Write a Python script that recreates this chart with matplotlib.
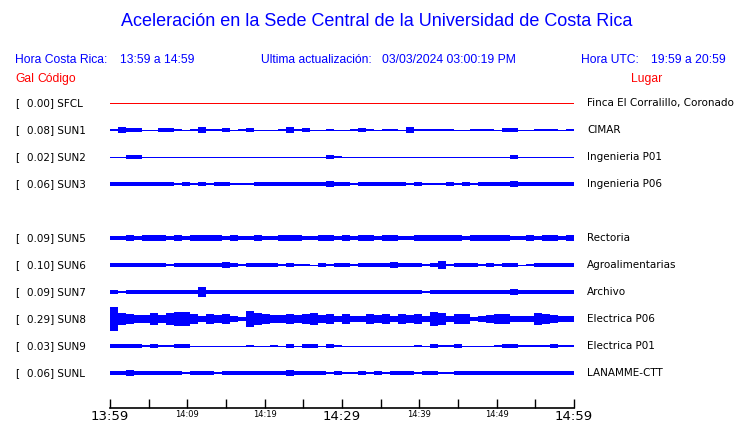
import numpy as np
import matplotlib
matplotlib.use("Agg")
import matplotlib.pyplot as plt
from matplotlib.transforms import blended_transform_factory

# ----------------------
# data read off the screen shot
# ----------------------
codes  = ["SFCL", "SUN1", "SUN2", "SUN3", "SUN5", "SUN6", "SUN7", "SUN8", "SUN9", "SUNL"]
gal    = [0.00, 0.08, 0.02, 0.06, 0.09, 0.10, 0.09, 0.29, 0.03, 0.06]
places = ["Finca El Corralillo, Coronado", "CIMAR", "Ingenieria P01", "Ingenieria P06",
          "Rectoria", "Agroalimentarias", "Archivo", "Electrica P06", "Electrica P01",
          "LANAMME-CTT"]
rows   = [0, 1, 2, 3, 5, 6, 7, 8, 9, 10]     # SUN4 slot is empty

# trace envelope (peak to peak, pixels), one value per ~1 min bin, 58 bins
sfcl = [1] * 58
sun1 = [2, 6, 3, 3, 1, 1, 3, 3, 2, 1, 2, 5, 2, 2, 3, 1, 2, 3, 1, 1,
        1, 2, 5, 2, 3, 1, 1, 2, 1, 1, 2, 3, 2, 1, 2, 2, 1, 5, 2, 2,
        2, 2, 2, 1, 1, 2, 2, 2, 1, 3, 3, 1, 1, 2, 2, 2, 1, 2]
sun2 = [1, 1, 3, 3, 1, 1, 1, 1, 1, 1, 1, 1, 1, 1, 1, 1, 1, 1, 1, 1,
        1, 1, 1, 1, 1, 1, 1, 3, 2, 1, 1, 1, 1, 1, 1, 1, 1, 1, 1, 1,
        1, 1, 1, 1, 1, 1, 1, 1, 1, 1, 3, 1, 1, 1, 1, 1, 1, 1]
sun3 = [4, 4, 4, 3, 4, 3, 3, 3, 2, 3, 2, 3, 2, 3, 3, 2, 2, 2, 3, 3,
        3, 4, 4, 3, 3, 4, 3, 6, 4, 4, 2, 3, 3, 3, 3, 3, 3, 2, 3, 2,
        2, 2, 3, 2, 3, 2, 3, 3, 4, 4, 5, 4, 4, 4, 3, 3, 4, 4]
sun5 = [4, 4, 6, 4, 5, 5, 5, 4, 5, 4, 6, 5, 5, 5, 4, 5, 4, 4, 6, 4,
        4, 5, 6, 5, 4, 4, 5, 5, 4, 5, 4, 5, 5, 4, 5, 5, 4, 4, 5, 5,
        5, 5, 6, 5, 4, 5, 5, 5, 6, 5, 4, 4, 5, 4, 5, 5, 4, 6]
sun6 = [4, 3, 3, 3, 3, 3, 3, 2, 3, 3, 3, 3, 3, 3, 5, 3, 2, 3, 3, 4,
        3, 2, 3, 2, 2, 1, 3, 2, 3, 3, 2, 4, 3, 3, 3, 5, 3, 3, 4, 2,
        3, 7, 2, 3, 3, 3, 2, 3, 2, 3, 3, 1, 2, 4, 3, 3, 3, 3]
sun7 = [3, 2, 3, 3, 3, 3, 3, 3, 3, 3, 3, 9, 3, 3, 3, 3, 3, 3, 3, 4,
        3, 3, 4, 3, 3, 3, 3, 3, 3, 3, 3, 3, 4, 4, 3, 3, 3, 3, 3, 2,
        3, 3, 3, 3, 4, 3, 3, 4, 3, 3, 5, 3, 3, 3, 3, 3, 3, 4]
sun8 = [23, 12, 10, 8, 8, 12, 7, 12, 13, 14, 10, 6, 9, 8, 9, 6, 4, 16, 11, 9,
        8, 8, 9, 8, 10, 12, 8, 10, 6, 10, 6, 6, 9, 8, 10, 6, 10, 8, 9, 5,
        14, 12, 6, 10, 9, 4, 5, 8, 9, 9, 6, 6, 6, 12, 10, 8, 6, 6]
sun9 = [3, 3, 3, 3, 2, 3, 2, 2, 3, 3, 1, 1, 1, 1, 1, 1, 1, 2, 1, 1,
        2, 1, 3, 1, 3, 3, 1, 3, 2, 1, 1, 1, 1, 1, 1, 1, 1, 1, 2, 1,
        3, 2, 2, 3, 1, 1, 1, 1, 2, 3, 3, 2, 2, 2, 2, 3, 2, 2]
sunl = [3, 3, 5, 4, 3, 3, 3, 3, 3, 2, 4, 3, 3, 2, 3, 3, 3, 3, 3, 3,
        4, 3, 5, 3, 3, 3, 3, 2, 3, 2, 2, 3, 2, 3, 2, 3, 3, 4, 2, 3,
        3, 2, 2, 3, 3, 3, 3, 3, 3, 3, 3, 3, 3, 3, 3, 3, 3, 3]
traces = [sfcl, sun1, sun2, sun3, sun5, sun6, sun7, sun8, sun9, sunl]

tick_min    = np.arange(0, 61, 5)
tick_labels = ["13:59", "", "14:09", "", "14:19", "", "14:29", "", "14:39", "", "14:49", "", "14:59"]

title    = "Aceleración en la Sede Central de la Universidad de Costa Rica"
updated  = "03/03/2024 03:00:19 PM"

# ----------------------
# figure
# ----------------------
W, H = 740, 423
fig = plt.figure(figsize=(W / 100, H / 100), dpi=100)
blue = "#0000ff"
red = "#ff0000"
hfont = "Liberation Sans"

# axes for the traces: x in minutes, y in row number
ax_top, ax_bot = 90, 408
ax = fig.add_axes([110 / W, 1 - ax_bot / H, 464 / W, (ax_bot - ax_top) / H])
row0_px, row_dy = 103, 27
y_top = (ax_top - row0_px) / row_dy
y_bot = (ax_bot - row0_px) / row_dy
ax.set_ylim(y_bot, y_top)
ax.set_xlim(0, 60)
px = (y_bot - y_top) / (ax_bot - ax_top)   # one pixel in data units

edges = np.linspace(0, 60, 59)
bw = edges[1] - edges[0]
for tr, r, c in zip(traces, rows, codes):
    col = red if c == "SFCL" else blue
    ax.plot([0, 60], [r, r], color=col, lw=0.7, solid_capstyle="butt", antialiased=False)
    v = np.array(tr)
    keep = v > 1                      # 1 = flat trace, only the base line
    h = (v[keep] + 0.4) * px
    ax.bar(edges[:-1][keep], h, bottom=r - h / 2, width=bw,
           align="edge", color=col, linewidth=0, antialiased=False)

for s in ["top", "left", "right"]:
    ax.spines[s].set_visible(False)
ax.spines["bottom"].set_linewidth(1.2)
ax.set_yticks([])
ax.set_xticks(tick_min)
ax.set_xticklabels(tick_labels)
ax.tick_params(axis="x", direction="in", length=6.5, width=1.0, pad=1.5)
for lab in ax.get_xticklabels():
    if lab.get_text() in ("13:59", "14:29", "14:59"):
        lab.set_fontsize(9.5)
    else:
        lab.set_fontsize(6)

# labels left and right of every trace
tr_blend = blended_transform_factory(fig.transFigure, ax.transData)
for r, c, g, p in zip(rows, codes, gal, places):
    ax.text(15 / W, r, "[", transform=tr_blend, fontsize=7.5, va="center", ha="left")
    ax.text(27 / W, r, f"{g:.2f}] {c}", transform=tr_blend, fontsize=7.5, va="center", ha="left")
    ax.text(587 / W, r, p, transform=tr_blend, fontsize=7.5, va="center", ha="left")

# header
hs = 8.7
fig.text(377 / W, 1 - 22 / H, title, color=blue, fontsize=13, family=hfont, ha="center", va="center")
fig.text(15 / W, 1 - 60 / H, "Hora Costa Rica:", color=blue, fontsize=hs, family=hfont, va="center")
fig.text(120 / W, 1 - 60 / H, "13:59 a 14:59", color=blue, fontsize=hs, family=hfont, va="center")
fig.text(261 / W, 1 - 60 / H, "Ultima actualización:", color=blue, fontsize=hs, family=hfont, va="center")
fig.text(382 / W, 1 - 60 / H, updated, color=blue, fontsize=hs, family=hfont, va="center")
fig.text(581 / W, 1 - 60 / H, "Hora UTC:", color=blue, fontsize=hs, family=hfont, va="center")
fig.text(651 / W, 1 - 60 / H, "19:59 a 20:59", color=blue, fontsize=hs, family=hfont, va="center")
fig.text(15 / W, 1 - 79 / H, "Gal", color=red, fontsize=hs, family=hfont, va="center")
fig.text(37 / W, 1 - 79 / H, "Código", color=red, fontsize=hs, family=hfont, va="center")
fig.text(631 / W, 1 - 79 / H, "Lugar", color=red, fontsize=hs, family=hfont, va="center")

fig.savefig("out.png", dpi=100)
